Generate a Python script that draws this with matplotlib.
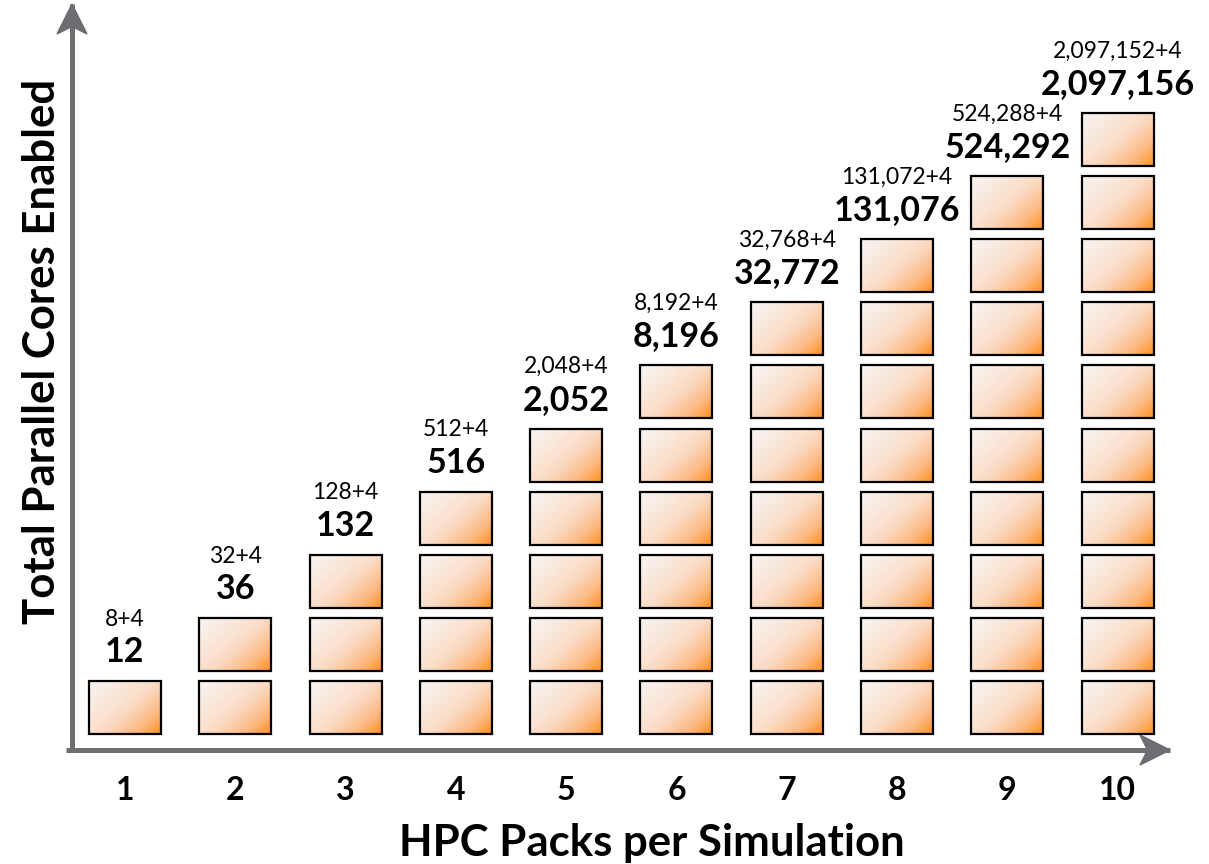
import numpy as np
import matplotlib
matplotlib.use("Agg")
import matplotlib.pyplot as plt
from matplotlib.patches import Rectangle, Polygon
from matplotlib.colors import LinearSegmentedColormap

plt.rcParams['font.family'] = ['Lato', 'DejaVu Sans']

# HPC packs per simulation and the cores they enable
packs = [1, 2, 3, 4, 5, 6, 7, 8, 9, 10]
base_cores = [8, 32, 128, 512, 2048, 8192, 32768, 131072, 524288, 2097152]
extra_cores = [4, 4, 4, 4, 4, 4, 4, 4, 4, 4]
total_cores = [12, 36, 132, 516, 2052, 8196, 32772, 131076, 524292, 2097156]
tick_labels = ["1", "2", "3", "4", "5", "6", "7", "8", "9", "10"]

W, H = 1209, 864
fig = plt.figure(figsize=(W / 100, H / 100), dpi=100)

# pixel-space layer for the axis arrows
deco = fig.add_axes([0, 0, 1, 1])
deco.set_xlim(0, W)
deco.set_ylim(H, 0)
deco.axis('off')

# data layer: one column per pack count, one row per box
ax = fig.add_axes([0, 0, 1, 1])
ax.set_xlim(-0.1333, 10.828)
ax.set_ylim(-1.480, 12.212)
ax.axis('off')
ax.patch.set_alpha(0)

grey = '#6d6e72'

def arrow(x0, y0, x1, y1, lw=5, head=30):
    deco.plot([x0, x1], [y0, y1], color=grey, lw=lw * 0.72,
              solid_capstyle='butt', zorder=1)
    d = np.array([x1 - x0, y1 - y0], float)
    d /= np.linalg.norm(d)
    n = np.array([-d[1], d[0]])
    tip = np.array([x1, y1])
    back = tip - d * head
    notch = tip - d * head * 0.75
    pts = [tip, back + n * head / 2, notch, back - n * head / 2]
    deco.add_patch(Polygon(pts, closed=True, color=grey, zorder=1))

# axes drawn as arrows
arrow(66, 750, 1170, 750)
arrow(72, 752, 72, 4)

cmap = LinearSegmentedColormap.from_list(
    'peach',
    [(0.0, (0.97, 0.955, 0.945)),
     (0.45, (0.985, 0.86, 0.77)),
     (0.75, (0.99, 0.72, 0.50)),
     (1.0, (1.0, 0.56, 0.10))])

gh, gw = 60, 80
u = np.linspace(0, 1, gw)[None, :]
v = np.linspace(0, 1, gh)[:, None]
t = np.clip((u * 0.55 + v * 0.45), 0, 1) ** 1.25
grad = cmap(t)

bw, bh = 0.653, 0.84

for p, b, e, tot in zip(packs, base_cores, extra_cores, total_cores):
    for level in range(1, p + 1):
        x0, x1 = p - bw / 2, p + bw / 2
        y0, y1 = level - bh / 2, level + bh / 2
        ax.imshow(grad, extent=(x0, x1, y0, y1), origin='upper',
                  interpolation='bilinear', zorder=2)
        ax.add_patch(Rectangle((x0, y0), bw, bh, fill=False,
                               edgecolor='black', lw=1.6, zorder=3))
    top = p + bh / 2
    ax.text(p, top + 0.46, f"{tot:,}", ha='center', va='center',
            fontsize=24.5, fontweight='bold', color='black', zorder=4)
    ax.text(p, top + 0.98, f"{b:,}+{e}", ha='center', va='center',
            fontsize=16.5, color='black', zorder=4)

ax.set_aspect('auto')

for p, lab in zip(packs, tick_labels):
    ax.text(p, -0.31, lab, ha='center', va='center', fontsize=23,
            fontweight='bold', color='black')

ax.text(5.78, -1.15, "HPC Packs per Simulation", ha='center', va='center',
        fontsize=31.5, fontweight='bold', color='black')
ax.text(0.247, 6.64, "Total Parallel Cores Enabled", ha='center', va='center',
        rotation=90, fontsize=31.5, fontweight='bold', color='black')

fig.savefig("out.png", dpi=100)
